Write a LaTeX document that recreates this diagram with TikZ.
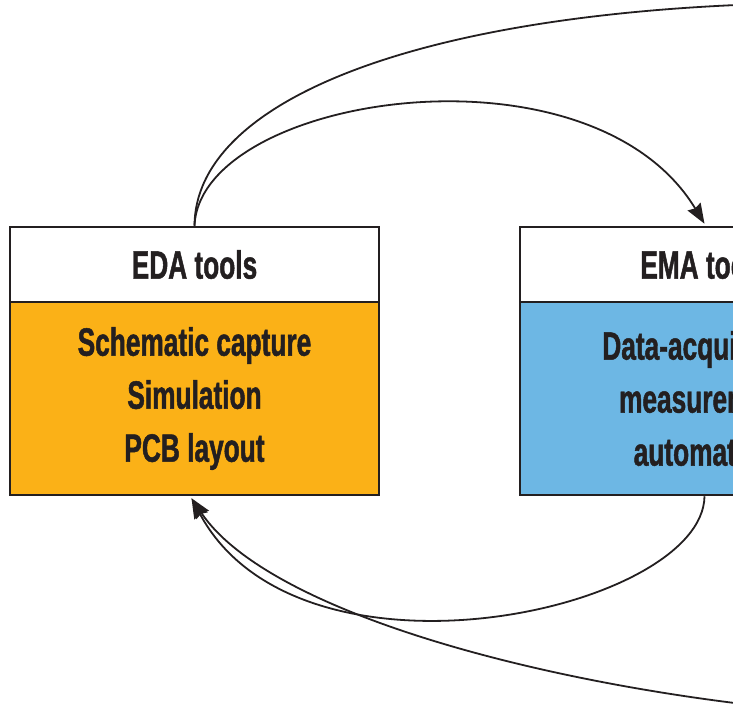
\documentclass[tikz,border=0pt]{standalone}
\usepackage{fontspec}
\newfontfamily\condfont{Liberation Sans}[UprightFont={* Bold},FakeStretch=0.665,FakeBold=1.2]
\usetikzlibrary{arrows.meta}
\definecolor{edaorange}{HTML}{FBB117}
\definecolor{emablue}{HTML}{6DB7E4}
\definecolor{inkdark}{HTML}{231F20}
\begin{document}
\begin{tikzpicture}[x=1pt,y=-1pt,
  boxpart/.style={draw=inkdark,line width=2.5pt,minimum width=369pt,inner sep=0pt,
    font=\condfont\fontsize{39.5}{53}\selectfont,text=inkdark,align=center},
  headpart/.style={boxpart,fill=white,minimum height=75pt},
  bodypart/.style={boxpart,minimum height=193pt},
  flow/.style={draw=inkdark,line width=1.8pt},
  flowarrow/.style={flow,-{Stealth[length=20pt,width=15pt,inset=2pt]}}]
\useasboundingbox (0,0) rectangle (733,704);
\clip (0,0) rectangle (733,704);
% EDA box
\node[headpart] (eda-head) at (194.5,264.5) {EDA tools};
\node[bodypart,fill=edaorange] (eda-body) at (194.5,398.5) {Schematic capture\\Simulation\\PCB layout};
% EMA box
\node[headpart] (ema-head) at (704.5,264.5) {EMA tools};
\node[bodypart,fill=emablue] (ema-body) at (704.5,398.5) {Data-acquisition\\measurement\\automation};
% off-picture ends
\coordinate (far-top) at (800,3);
\coordinate (far-bot) at (820,712);
% connectors
\draw[flowarrow] (eda-head.north) .. controls (200,95) and (590,35) .. ([yshift=2pt]ema-head.north);
\draw[flow] (eda-head.north) .. controls (195,100) and (420,10) .. (far-top);
\draw[flowarrow] (ema-body.south) .. controls (703,610) and (300,700) .. ([xshift=-3pt,yshift=-2pt]eda-body.south);
\draw[flowarrow] (far-bot) .. controls (560,690) and (270,615) .. ([xshift=-3pt,yshift=-2pt]eda-body.south);
\end{tikzpicture}
\end{document}
